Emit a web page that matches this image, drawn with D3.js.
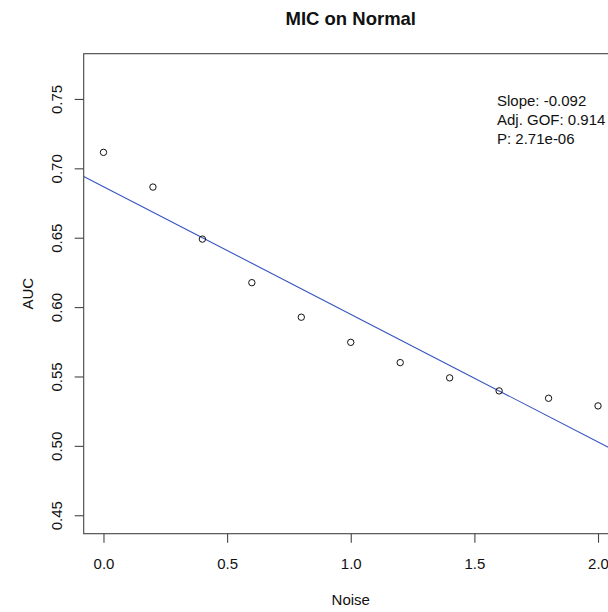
<!DOCTYPE html>
<html>
<head>
<meta charset="utf-8">
<script src="https://cdn.jsdelivr.net/npm/d3@7"></script>
<style>
  html, body { margin: 0; padding: 0; background: #fff; }
  svg { display: block; font-family: "Liberation Sans", Arial, sans-serif; }
</style>
</head>
<body>
<svg id="chart" width="608" height="612"></svg>
<script>
// ---- data ----
const noise = [0.0, 0.2, 0.4, 0.6, 0.8, 1.0, 1.2, 1.4, 1.6, 1.8, 2.0];
const auc = [0.7115, 0.6865, 0.649, 0.6176, 0.5927, 0.5746, 0.560, 0.549, 0.5396, 0.5343, 0.5288];
const xTicks = [0.0, 0.5, 1.0, 1.5, 2.0];
const yTicks = [0.45, 0.50, 0.55, 0.60, 0.65, 0.70, 0.75];
const fitIntercept = [0.6868];
const fitSlope = [-0.092];
const statLines = ["Slope: -0.092", "Adj. GOF: 0.914", "P: 2.71e-06"];
const titleText = "MIC on Normal";
const xLabel = "Noise";
const yLabel = "AUC";

(function () {
  // ---- layout ----
  const pL = 83.7, pR = 617.8, pT = 53.7, pB = 533.7;
  const svg = d3.select("#chart");

  const x = d3.scaleLinear().domain([-0.08, 2.08]).range([pL, pR]);
  const y = d3.scaleLinear().domain([0.4367, 0.7826]).range([pB, pT]);

  // clip
  svg.append("defs").append("clipPath").attr("id", "plotclip")
    .append("rect").attr("x", pL).attr("y", pT)
    .attr("width", pR - pL).attr("height", pB - pT);

  // regression line
  const x0 = x.domain()[0], x1 = x.domain()[1];
  svg.append("line")
    .attr("clip-path", "url(#plotclip)")
    .attr("x1", x(x0)).attr("y1", y(fitIntercept[0] + fitSlope[0] * x0))
    .attr("x2", x(x1)).attr("y2", y(fitIntercept[0] + fitSlope[0] * x1))
    .attr("stroke", "#3553c0").attr("stroke-width", 1.1);

  // points
  svg.append("g").selectAll("circle").data(noise).join("circle")
    .attr("cx", (d) => x(d))
    .attr("cy", (d, i) => y(auc[i]))
    .attr("r", 3.2)
    .attr("fill", "none").attr("stroke", "#111").attr("stroke-width", 1);

  // box
  svg.append("rect")
    .attr("x", pL).attr("y", pT)
    .attr("width", pR - pL).attr("height", pB - pT)
    .attr("fill", "none").attr("stroke", "#444").attr("stroke-width", 1.1);

  // x axis
  const xAxis = svg.append("g").attr("transform", `translate(0,${pB})`)
    .call(d3.axisBottom(x).tickValues(xTicks).tickSize(9).tickPadding(16).tickFormat(d3.format(".1f")));
  xAxis.select(".domain").remove();
  xAxis.selectAll(".tick line").attr("stroke", "#444").attr("stroke-width", 1.1);
  xAxis.selectAll(".tick text").attr("font-size", 15).attr("fill", "#111")
    .attr("font-family", "Liberation Sans, Arial, sans-serif");

  // y axis
  const yAxis = svg.append("g").attr("transform", `translate(${pL},0)`)
    .call(d3.axisLeft(y).tickValues(yTicks).tickSize(9).tickFormat(d3.format(".2f")));
  yAxis.select(".domain").remove();
  yAxis.selectAll(".tick line").attr("stroke", "#444").attr("stroke-width", 1.1);
  yAxis.selectAll(".tick text")
    .attr("font-size", 15).attr("fill", "#111")
    .attr("font-family", "Liberation Sans, Arial, sans-serif")
    .attr("x", null).attr("dy", null)
    .attr("text-anchor", "middle")
    .attr("transform", `translate(${62 - pL},0) rotate(-90)`);

  // title
  svg.append("text").attr("x", (pL + pR) / 2).attr("y", 25)
    .attr("text-anchor", "middle").attr("font-size", 18.5).attr("font-weight", "bold")
    .attr("fill", "#111").text(titleText);

  // axis labels
  svg.append("text").attr("x", (pL + pR) / 2).attr("y", 605)
    .attr("text-anchor", "middle").attr("font-size", 15).attr("fill", "#111").text(xLabel);
  svg.append("text")
    .attr("transform", `translate(33,${(pT + pB) / 2}) rotate(-90)`)
    .attr("text-anchor", "middle").attr("font-size", 15).attr("fill", "#111").text(yLabel);

  // stats annotation
  svg.append("g").selectAll("text").data(statLines).join("text")
    .attr("x", 497).attr("y", (d, i) => 106 + i * 19)
    .attr("font-size", 15).attr("fill", "#111").text((d) => d);
})();
</script>
</body>
</html>
